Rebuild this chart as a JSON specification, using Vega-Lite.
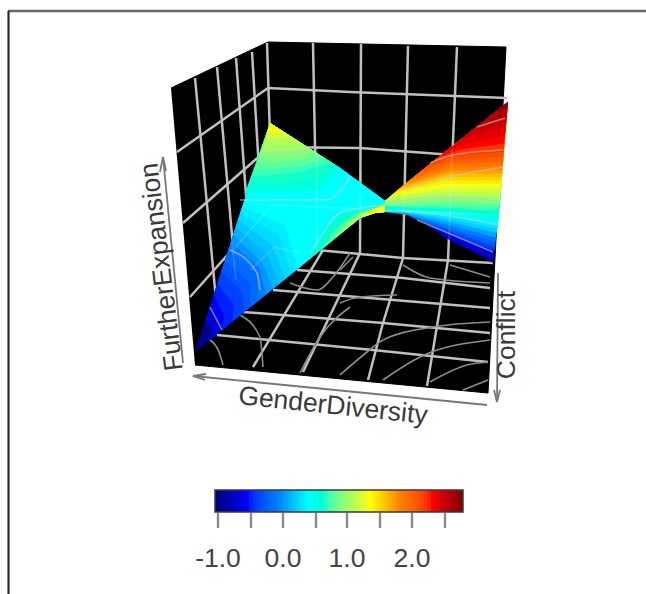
{"$schema":"https://vega.github.io/schema/vega-lite/v6.json","width":646,"height":594,"padding":0,"autosize":{"type":"none"},"background":"white","config":{"view":{"stroke":null}},
"datasets":{
"frame":[{"g":"t","i":0,"u":8,"v":11},{"g":"t","i":1,"u":646,"v":11}],
"frameL":[{"g":"l","i":0,"u":8.5,"v":11},{"g":"l","i":1,"u":8.5,"v":594}],
"box":[{"g":"b","i":0,"u":171,"v":88},{"g":"b","i":1,"u":268,"v":42},{"g":"b","i":2,"u":506,"v":47},{"g":"b","i":3,"u":488,"v":393},{"g":"b","i":4,"u":195,"v":365}],
"grid":[
{"g":"a1","i":0,"u":195,"v":78},{"g":"a1","i":1,"u":217,"v":310},
{"g":"a2","i":0,"u":217,"v":67},{"g":"a2","i":1,"u":236,"v":280},
{"g":"a3","i":0,"u":236,"v":58},{"g":"a3","i":1,"u":250,"v":250},
{"g":"a4","i":0,"u":252,"v":52},{"g":"a4","i":1,"u":262,"v":220},
{"g":"a5","i":0,"u":267,"v":43},{"g":"a5","i":1,"u":272,"v":200},
{"g":"h1","i":0,"u":177,"v":152},{"g":"h1","i":1,"u":268,"v":88},{"g":"h1","i":2,"u":350,"v":92},{"g":"h1","i":3,"u":507,"v":98},
{"g":"h2","i":0,"u":183,"v":223},{"g":"h2","i":1,"u":270,"v":147},{"g":"h2","i":2,"u":360,"v":148},{"g":"h2","i":3,"u":453,"v":155},
{"g":"h3","i":0,"u":190,"v":297},{"g":"h3","i":1,"u":272,"v":205},{"g":"h3","i":2,"u":400,"v":208},
{"g":"b1","i":0,"u":313,"v":43},{"g":"b1","i":1,"u":317,"v":250},
{"g":"b2","i":0,"u":361,"v":44},{"g":"b2","i":1,"u":360,"v":253},
{"g":"b3","i":0,"u":408,"v":46},{"g":"b3","i":1,"u":403,"v":258},
{"g":"b4","i":0,"u":457,"v":47},{"g":"b4","i":1,"u":448,"v":260},
{"g":"f0","i":0,"u":317,"v":250},{"g":"f0","i":1,"u":403,"v":258},{"g":"f0","i":2,"u":493,"v":263},
{"g":"f1","i":0,"u":297,"v":270},{"g":"f1","i":1,"u":403,"v":278},{"g":"f1","i":2,"u":490,"v":288},
{"g":"f2","i":0,"u":273,"v":290},{"g":"f2","i":1,"u":490,"v":308},
{"g":"f3","i":0,"u":243,"v":312},{"g":"f3","i":1,"u":383,"v":323},{"g":"f3","i":2,"u":490,"v":333},
{"g":"f4","i":0,"u":217,"v":335},{"g":"f4","i":1,"u":373,"v":350},{"g":"f4","i":2,"u":488,"v":362},
{"g":"d1","i":0,"u":253,"v":367},{"g":"d1","i":1,"u":323,"v":250},
{"g":"d2","i":0,"u":303,"v":372},{"g":"d2","i":1,"u":360,"v":253},
{"g":"d3","i":0,"u":368,"v":380},{"g":"d3","i":1,"u":383,"v":323},{"g":"d3","i":2,"u":403,"v":258},
{"g":"d4","i":0,"u":427,"v":386},{"g":"d4","i":1,"u":448,"v":260}
],
"floorContours":[
{"g":"c1","i":0,"u":210,"v":340},{"g":"c1","i":1,"u":219,"v":352},{"g":"c1","i":2,"u":223,"v":365},
{"g":"c2","i":0,"u":240,"v":315},{"g":"c2","i":1,"u":260,"v":337},{"g":"c2","i":2,"u":263,"v":367},
{"g":"c3","i":0,"u":290,"v":283},{"g":"c3","i":1,"u":317,"v":290},{"g":"c3","i":2,"u":333,"v":277},{"g":"c3","i":3,"u":350,"v":253},
{"g":"c4","i":0,"u":300,"v":373},{"g":"c4","i":1,"u":320,"v":337},{"g":"c4","i":2,"u":350,"v":307},
{"g":"c5","i":0,"u":340,"v":375},{"g":"c5","i":1,"u":367,"v":352},{"g":"c5","i":2,"u":383,"v":340},{"g":"c5","i":3,"u":433,"v":327},{"g":"c5","i":4,"u":490,"v":322},
{"g":"c6","i":0,"u":383,"v":380},{"g":"c6","i":1,"u":420,"v":357},{"g":"c6","i":2,"u":490,"v":340},
{"g":"c7","i":0,"u":430,"v":382},{"g":"c7","i":1,"u":467,"v":365},{"g":"c7","i":2,"u":488,"v":362},
{"g":"c8","i":0,"u":463,"v":390},{"g":"c8","i":1,"u":488,"v":380},
{"g":"c9","i":0,"u":403,"v":265},{"g":"c9","i":1,"u":430,"v":278},{"g":"c9","i":2,"u":490,"v":283},
{"g":"c10","i":0,"u":450,"v":265},{"g":"c10","i":1,"u":490,"v":277},
{"g":"c11","i":0,"u":340,"v":303},{"g":"c11","i":1,"u":360,"v":297},{"g":"c11","i":2,"u":397,"v":295},
{"g":"c12","i":0,"u":340,"v":270},{"g":"c12","i":1,"u":353,"v":257}
],
"left":[
{"z":-0.95,"i":0,"u":195,"v":352},{"z":-0.95,"i":1,"u":360,"v":218},{"z":-0.95,"i":2,"u":375,"v":213},{"z":-0.95,"i":3,"u":385,"v":212},{"z":-0.95,"i":4,"u":385,"v":201},{"z":-0.95,"i":5,"u":340,"v":168},{"z":-0.95,"i":6,"u":270,"v":123},
{"z":-0.7,"i":0,"u":205.5,"v":320},{"z":-0.7,"i":1,"u":213,"v":332},{"z":-0.7,"i":2,"u":206,"v":343},{"z":-0.7,"i":3,"u":360,"v":218},{"z":-0.7,"i":4,"u":375,"v":213},{"z":-0.7,"i":5,"u":385,"v":212},{"z":-0.7,"i":6,"u":385,"v":201},{"z":-0.7,"i":7,"u":340,"v":168},{"z":-0.7,"i":8,"u":270,"v":123},
{"z":-0.6,"i":0,"u":209.6,"v":307.5},{"z":-0.6,"i":1,"u":218.5,"v":323.5},{"z":-0.6,"i":2,"u":214,"v":336.6},{"z":-0.6,"i":3,"u":360,"v":218},{"z":-0.6,"i":4,"u":375,"v":213},{"z":-0.6,"i":5,"u":385,"v":212},{"z":-0.6,"i":6,"u":385,"v":201},{"z":-0.6,"i":7,"u":340,"v":168},{"z":-0.6,"i":8,"u":270,"v":123},
{"z":-0.5,"i":0,"u":213.7,"v":295},{"z":-0.5,"i":1,"u":224,"v":315},{"z":-0.5,"i":2,"u":222,"v":330},{"z":-0.5,"i":3,"u":360,"v":218},{"z":-0.5,"i":4,"u":375,"v":213},{"z":-0.5,"i":5,"u":385,"v":212},{"z":-0.5,"i":6,"u":385,"v":201},{"z":-0.5,"i":7,"u":340,"v":168},{"z":-0.5,"i":8,"u":270,"v":123},
{"z":-0.4,"i":0,"u":217.3,"v":283.5},{"z":-0.4,"i":1,"u":233.5,"v":304},{"z":-0.4,"i":2,"u":232.5,"v":321.5},{"z":-0.4,"i":3,"u":360,"v":218},{"z":-0.4,"i":4,"u":375,"v":213},{"z":-0.4,"i":5,"u":385,"v":212},{"z":-0.4,"i":6,"u":385,"v":201},{"z":-0.4,"i":7,"u":340,"v":168},{"z":-0.4,"i":8,"u":270,"v":123},
{"z":-0.3,"i":0,"u":221,"v":272},{"z":-0.3,"i":1,"u":243,"v":293},{"z":-0.3,"i":2,"u":243,"v":313},{"z":-0.3,"i":3,"u":360,"v":218},{"z":-0.3,"i":4,"u":375,"v":213},{"z":-0.3,"i":5,"u":385,"v":212},{"z":-0.3,"i":6,"u":385,"v":201},{"z":-0.3,"i":7,"u":340,"v":168},{"z":-0.3,"i":8,"u":270,"v":123},
{"z":-0.2,"i":0,"u":224.7,"v":261},{"z":-0.2,"i":1,"u":250,"v":283},{"z":-0.2,"i":2,"u":250.5,"v":307},{"z":-0.2,"i":3,"u":360,"v":218},{"z":-0.2,"i":4,"u":375,"v":213},{"z":-0.2,"i":5,"u":385,"v":212},{"z":-0.2,"i":6,"u":385,"v":201},{"z":-0.2,"i":7,"u":340,"v":168},{"z":-0.2,"i":8,"u":270,"v":123},
{"z":-0.1,"i":0,"u":228.4,"v":250},{"z":-0.1,"i":1,"u":257,"v":273},{"z":-0.1,"i":2,"u":258,"v":301},{"z":-0.1,"i":3,"u":360,"v":218},{"z":-0.1,"i":4,"u":375,"v":213},{"z":-0.1,"i":5,"u":385,"v":212},{"z":-0.1,"i":6,"u":385,"v":201},{"z":-0.1,"i":7,"u":340,"v":168},{"z":-0.1,"i":8,"u":270,"v":123},
{"z":0.0,"i":0,"u":230.7,"v":242.5},{"z":0.0,"i":1,"u":259.5,"v":267.5},{"z":0.0,"i":2,"u":265.5,"v":295},{"z":0.0,"i":3,"u":360,"v":218},{"z":0.0,"i":4,"u":375,"v":213},{"z":0.0,"i":5,"u":385,"v":212},{"z":0.0,"i":6,"u":385,"v":201},{"z":0.0,"i":7,"u":340,"v":168},{"z":0.0,"i":8,"u":270,"v":123},
{"z":0.1,"i":0,"u":233,"v":235},{"z":0.1,"i":1,"u":262,"v":262},{"z":0.1,"i":2,"u":273,"v":288.7},{"z":0.1,"i":3,"u":360,"v":218},{"z":0.1,"i":4,"u":375,"v":213},{"z":0.1,"i":5,"u":385,"v":212},{"z":0.1,"i":6,"u":385,"v":201},{"z":0.1,"i":7,"u":340,"v":168},{"z":0.1,"i":8,"u":270,"v":123},
{"z":0.17,"i":0,"u":235.5,"v":227.5},{"z":0.17,"i":1,"u":267,"v":253.5},{"z":0.17,"i":2,"u":279,"v":284},{"z":0.17,"i":3,"u":360,"v":218},{"z":0.17,"i":4,"u":375,"v":213},{"z":0.17,"i":5,"u":385,"v":212},{"z":0.17,"i":6,"u":385,"v":201},{"z":0.17,"i":7,"u":340,"v":168},{"z":0.17,"i":8,"u":270,"v":123},
{"z":0.25,"i":0,"u":238,"v":220},{"z":0.25,"i":1,"u":272,"v":245},{"z":0.25,"i":2,"u":285,"v":279},{"z":0.25,"i":3,"u":360,"v":218},{"z":0.25,"i":4,"u":375,"v":213},{"z":0.25,"i":5,"u":385,"v":212},{"z":0.25,"i":6,"u":385,"v":201},{"z":0.25,"i":7,"u":340,"v":168},{"z":0.25,"i":8,"u":270,"v":123},
{"z":0.32,"i":0,"u":240.2,"v":213.5},{"z":0.32,"i":1,"u":278.5,"v":235},{"z":0.32,"i":2,"u":291.5,"v":273.6},{"z":0.32,"i":3,"u":360,"v":218},{"z":0.32,"i":4,"u":375,"v":213},{"z":0.32,"i":5,"u":385,"v":212},{"z":0.32,"i":6,"u":385,"v":201},{"z":0.32,"i":7,"u":340,"v":168},{"z":0.32,"i":8,"u":270,"v":123},
{"z":0.4,"i":0,"u":242.5,"v":207},{"z":0.4,"i":1,"u":285,"v":225},{"z":0.4,"i":2,"u":298,"v":268.4},{"z":0.4,"i":3,"u":360,"v":218},{"z":0.4,"i":4,"u":375,"v":213},{"z":0.4,"i":5,"u":385,"v":212},{"z":0.4,"i":6,"u":385,"v":201},{"z":0.4,"i":7,"u":340,"v":168},{"z":0.4,"i":8,"u":270,"v":123},
{"z":0.55,"i":0,"u":245,"v":193},{"z":0.55,"i":1,"u":320,"v":190},{"z":0.55,"i":2,"u":340,"v":168},{"z":0.55,"i":3,"u":270,"v":123},
{"z":0.62,"i":0,"u":248.5,"v":185},{"z":0.62,"i":1,"u":310,"v":181},{"z":0.62,"i":2,"u":336,"v":165.5},{"z":0.62,"i":3,"u":270,"v":123},
{"z":0.7,"i":0,"u":252,"v":177},{"z":0.7,"i":1,"u":300,"v":172},{"z":0.7,"i":2,"u":332,"v":163},{"z":0.7,"i":3,"u":270,"v":123},
{"z":0.78,"i":0,"u":254.5,"v":170},{"z":0.78,"i":1,"u":300,"v":166.5},{"z":0.78,"i":2,"u":326,"v":159},{"z":0.78,"i":3,"u":270,"v":123},
{"z":0.85,"i":0,"u":257,"v":163},{"z":0.85,"i":1,"u":300,"v":161},{"z":0.85,"i":2,"u":320,"v":155},{"z":0.85,"i":3,"u":270,"v":123},
{"z":0.92,"i":0,"u":259.5,"v":157.5},{"z":0.92,"i":1,"u":300,"v":156},{"z":0.92,"i":2,"u":316,"v":152.5},{"z":0.92,"i":3,"u":270,"v":123},
{"z":1.0,"i":0,"u":262,"v":152},{"z":1.0,"i":1,"u":300,"v":151},{"z":1.0,"i":2,"u":312,"v":150},{"z":1.0,"i":3,"u":270,"v":123},
{"z":1.1,"i":0,"u":264,"v":145},{"z":1.1,"i":1,"u":302,"v":144},{"z":1.1,"i":2,"u":270,"v":123},
{"z":1.2,"i":0,"u":266,"v":138},{"z":1.2,"i":1,"u":292,"v":137},{"z":1.2,"i":2,"u":270,"v":123},
{"z":1.28,"i":0,"u":267,"v":134},{"z":1.28,"i":1,"u":286,"v":133.5},{"z":1.28,"i":2,"u":270,"v":123},
{"z":1.35,"i":0,"u":268,"v":130},{"z":1.35,"i":1,"u":280,"v":130},{"z":1.35,"i":2,"u":270,"v":123},
{"z":0.6,"i":0,"u":308,"v":260},{"z":0.6,"i":1,"u":318,"v":240},{"z":0.6,"i":2,"u":340,"v":214},{"z":0.6,"i":3,"u":385,"v":205},{"z":0.6,"i":4,"u":385,"v":212},{"z":0.6,"i":5,"u":375,"v":213},{"z":0.6,"i":6,"u":360,"v":218},
{"z":0.75,"i":0,"u":322,"v":249},{"z":0.75,"i":1,"u":333,"v":232},{"z":0.75,"i":2,"u":352,"v":215},{"z":0.75,"i":3,"u":385,"v":205},{"z":0.75,"i":4,"u":385,"v":212},{"z":0.75,"i":5,"u":375,"v":213},{"z":0.75,"i":6,"u":360,"v":218},
{"z":0.9,"i":0,"u":335,"v":238},{"z":0.9,"i":1,"u":347,"v":222},{"z":0.9,"i":2,"u":385,"v":205},{"z":0.9,"i":3,"u":385,"v":212},{"z":0.9,"i":4,"u":375,"v":213},{"z":0.9,"i":5,"u":360,"v":218},
{"z":1.05,"i":0,"u":345,"v":230},{"z":1.05,"i":1,"u":358,"v":215},{"z":1.05,"i":2,"u":385,"v":205},{"z":1.05,"i":3,"u":385,"v":212},{"z":1.05,"i":4,"u":375,"v":213},{"z":1.05,"i":5,"u":360,"v":218},
{"z":1.22,"i":0,"u":355,"v":222},{"z":1.22,"i":1,"u":368,"v":211},{"z":1.22,"i":2,"u":385,"v":205},{"z":1.22,"i":3,"u":385,"v":212},{"z":1.22,"i":4,"u":375,"v":213},{"z":1.22,"i":5,"u":360,"v":218},
{"z":1.37,"i":0,"u":364,"v":216},{"z":1.37,"i":1,"u":375,"v":209},{"z":1.37,"i":2,"u":385,"v":205},{"z":1.37,"i":3,"u":385,"v":212},{"z":1.37,"i":4,"u":375,"v":213}
],
"right":[
{"z":-0.95,"i":0,"u":385,"v":201},{"z":-0.95,"i":1,"u":385,"v":212},{"z":-0.95,"i":2,"u":403,"v":212},{"z":-0.95,"i":3,"u":420,"v":220},{"z":-0.95,"i":4,"u":450,"v":240},{"z":-0.95,"i":5,"u":493,"v":263},{"z":-0.95,"i":6,"u":508,"v":102},
{"z":-0.7,"i":0,"u":450,"v":240.5},{"z":-0.7,"i":1,"u":475,"v":251.5},{"z":-0.7,"i":2,"u":493.7,"v":259},{"z":-0.7,"i":3,"u":508,"v":102},{"z":-0.7,"i":4,"u":385,"v":201},{"z":-0.7,"i":5,"u":385,"v":212},{"z":-0.7,"i":6,"u":403,"v":212},{"z":-0.7,"i":7,"u":420,"v":220},
{"z":-0.4,"i":0,"u":420,"v":221},{"z":-0.4,"i":1,"u":460,"v":238},{"z":-0.4,"i":2,"u":494.5,"v":251},{"z":-0.4,"i":3,"u":508,"v":102},{"z":-0.4,"i":4,"u":385,"v":201},{"z":-0.4,"i":5,"u":385,"v":212},{"z":-0.4,"i":6,"u":403,"v":212},
{"z":-0.25,"i":0,"u":415,"v":219},{"z":-0.25,"i":1,"u":455,"v":233},{"z":-0.25,"i":2,"u":495,"v":246.5},{"z":-0.25,"i":3,"u":508,"v":102},{"z":-0.25,"i":4,"u":385,"v":201},{"z":-0.25,"i":5,"u":385,"v":212},{"z":-0.25,"i":6,"u":403,"v":212},
{"z":-0.1,"i":0,"u":412,"v":217},{"z":-0.1,"i":1,"u":450,"v":229},{"z":-0.1,"i":2,"u":495.5,"v":242},{"z":-0.1,"i":3,"u":508,"v":102},{"z":-0.1,"i":4,"u":385,"v":201},{"z":-0.1,"i":5,"u":385,"v":212},{"z":-0.1,"i":6,"u":403,"v":212},
{"z":0.05,"i":0,"u":408,"v":215},{"z":0.05,"i":1,"u":450,"v":225.5},{"z":0.05,"i":2,"u":496,"v":237.5},{"z":0.05,"i":3,"u":508,"v":102},{"z":0.05,"i":4,"u":385,"v":201},{"z":0.05,"i":5,"u":385,"v":212},
{"z":0.2,"i":0,"u":405,"v":213},{"z":0.2,"i":1,"u":450,"v":222},{"z":0.2,"i":2,"u":497,"v":233},{"z":0.2,"i":3,"u":508,"v":102},{"z":0.2,"i":4,"u":385,"v":201},{"z":0.2,"i":5,"u":385,"v":212},
{"z":0.3,"i":0,"u":402,"v":212},{"z":0.3,"i":1,"u":450,"v":219},{"z":0.3,"i":2,"u":497.5,"v":229},{"z":0.3,"i":3,"u":508,"v":102},{"z":0.3,"i":4,"u":385,"v":201},{"z":0.3,"i":5,"u":385,"v":212},
{"z":0.4,"i":0,"u":400,"v":211},{"z":0.4,"i":1,"u":450,"v":216},{"z":0.4,"i":2,"u":498,"v":225},{"z":0.4,"i":3,"u":508,"v":102},{"z":0.4,"i":4,"u":385,"v":201},{"z":0.4,"i":5,"u":385,"v":212},
{"z":0.5,"i":0,"u":397,"v":210},{"z":0.5,"i":1,"u":450,"v":213.5},{"z":0.5,"i":2,"u":498.5,"v":220},{"z":0.5,"i":3,"u":508,"v":102},{"z":0.5,"i":4,"u":385,"v":201},{"z":0.5,"i":5,"u":385,"v":211},
{"z":0.6,"i":0,"u":395,"v":209},{"z":0.6,"i":1,"u":450,"v":211},{"z":0.6,"i":2,"u":499,"v":216},{"z":0.6,"i":3,"u":508,"v":102},{"z":0.6,"i":4,"u":385,"v":201},{"z":0.6,"i":5,"u":385,"v":210},
{"z":0.7,"i":0,"u":390,"v":207},{"z":0.7,"i":1,"u":447,"v":208.5},{"z":0.7,"i":2,"u":499,"v":211},{"z":0.7,"i":3,"u":508,"v":102},{"z":0.7,"i":4,"u":385,"v":201},
{"z":0.8,"i":0,"u":385,"v":206},{"z":0.8,"i":1,"u":445,"v":206},{"z":0.8,"i":2,"u":499.5,"v":207},{"z":0.8,"i":3,"u":508,"v":102},{"z":0.8,"i":4,"u":385,"v":201},
{"z":0.9,"i":0,"u":385,"v":205},{"z":0.9,"i":1,"u":442,"v":202},{"z":0.9,"i":2,"u":499.7,"v":203.5},{"z":0.9,"i":3,"u":508,"v":102},{"z":0.9,"i":4,"u":385,"v":201},
{"z":1.0,"i":0,"u":385,"v":204},{"z":1.0,"i":1,"u":440,"v":198},{"z":1.0,"i":2,"u":500,"v":200},{"z":1.0,"i":3,"u":508,"v":102},{"z":1.0,"i":4,"u":385,"v":201},
{"z":1.1,"i":0,"u":386.5,"v":200.5},{"z":1.1,"i":1,"u":440,"v":195},{"z":1.1,"i":2,"u":500,"v":196.5},{"z":1.1,"i":3,"u":508,"v":102},
{"z":1.2,"i":0,"u":388,"v":198},{"z":1.2,"i":1,"u":440,"v":192},{"z":1.2,"i":2,"u":500.5,"v":193},{"z":1.2,"i":3,"u":508,"v":102},
{"z":1.3,"i":0,"u":390,"v":196.5},{"z":1.3,"i":1,"u":441,"v":188},{"z":1.3,"i":2,"u":501,"v":188.5},{"z":1.3,"i":3,"u":508,"v":102},
{"z":1.4,"i":0,"u":392,"v":195},{"z":1.4,"i":1,"u":442,"v":184},{"z":1.4,"i":2,"u":501,"v":184},{"z":1.4,"i":3,"u":508,"v":102},
{"z":1.5,"i":0,"u":395,"v":192},{"z":1.5,"i":1,"u":443.5,"v":180.5},{"z":1.5,"i":2,"u":501.5,"v":180.5},{"z":1.5,"i":3,"u":508,"v":102},
{"z":1.6,"i":0,"u":398,"v":190},{"z":1.6,"i":1,"u":445,"v":177},{"z":1.6,"i":2,"u":502,"v":177},{"z":1.6,"i":3,"u":508,"v":102},
{"z":1.7,"i":0,"u":401,"v":187},{"z":1.7,"i":1,"u":447,"v":174},{"z":1.7,"i":2,"u":502,"v":173.5},{"z":1.7,"i":3,"u":508,"v":102},
{"z":1.8,"i":0,"u":405,"v":184},{"z":1.8,"i":1,"u":450,"v":171},{"z":1.8,"i":2,"u":502,"v":170},{"z":1.8,"i":3,"u":508,"v":102},
{"z":1.9,"i":0,"u":410,"v":180},{"z":1.9,"i":1,"u":450,"v":167.5},{"z":1.9,"i":2,"u":502.5,"v":166},{"z":1.9,"i":3,"u":508,"v":102},
{"z":2.0,"i":0,"u":415,"v":176},{"z":2.0,"i":1,"u":450,"v":164},{"z":2.0,"i":2,"u":503,"v":162},{"z":2.0,"i":3,"u":508,"v":102},
{"z":2.1,"i":0,"u":421,"v":171},{"z":2.1,"i":1,"u":451,"v":160},{"z":2.1,"i":2,"u":503,"v":157},{"z":2.1,"i":3,"u":508,"v":102},
{"z":2.2,"i":0,"u":428,"v":165.6},{"z":2.2,"i":1,"u":453,"v":156},{"z":2.2,"i":2,"u":503.5,"v":152},{"z":2.2,"i":3,"u":508,"v":102},
{"z":2.3,"i":0,"u":438,"v":157.6},{"z":2.3,"i":1,"u":461,"v":149.5},{"z":2.3,"i":2,"u":504,"v":143.5},{"z":2.3,"i":3,"u":508,"v":102},
{"z":2.4,"i":0,"u":448,"v":150},{"z":2.4,"i":1,"u":470,"v":143},{"z":2.4,"i":2,"u":505,"v":135},{"z":2.4,"i":3,"u":508,"v":102},
{"z":2.5,"i":0,"u":462,"v":138},{"z":2.5,"i":1,"u":488,"v":130},{"z":2.5,"i":2,"u":505.5,"v":126},{"z":2.5,"i":3,"u":508,"v":102},
{"z":2.6,"i":0,"u":477,"v":126},{"z":2.6,"i":1,"u":506,"v":118},{"z":2.6,"i":2,"u":508,"v":102},
{"z":2.75,"i":0,"u":494,"v":112},{"z":2.75,"i":1,"u":507,"v":108},{"z":2.75,"i":2,"u":508,"v":102}
],
"overlay":[
{"g":"o1","i":0,"u":210,"v":307},{"g":"o1","i":1,"u":222,"v":330},
{"g":"o2","i":0,"u":230,"v":250},{"g":"o2","i":1,"u":257,"v":273},{"g":"o2","i":2,"u":260,"v":290},
{"g":"o3","i":0,"u":240,"v":200},{"g":"o3","i":1,"u":327,"v":200},{"g":"o3","i":2,"u":350,"v":177},
{"g":"o4","i":0,"u":262,"v":153},{"g":"o4","i":1,"u":310,"v":150},
{"g":"o5","i":0,"u":310,"v":253},{"g":"o5","i":1,"u":317,"v":243},{"g":"o5","i":2,"u":340,"v":213},{"g":"o5","i":3,"u":385,"v":205},
{"g":"o6","i":0,"u":430,"v":163},{"g":"o6","i":1,"u":453,"v":155},{"g":"o6","i":2,"u":503,"v":150},
{"g":"o7","i":0,"u":403,"v":190},{"g":"o7","i":1,"u":450,"v":177},{"g":"o7","i":2,"u":503,"v":167},
{"g":"o8","i":0,"u":387,"v":203},{"g":"o8","i":1,"u":440,"v":197},{"g":"o8","i":2,"u":497,"v":200},
{"g":"o9","i":0,"u":477,"v":127},{"g":"o9","i":1,"u":505,"v":118},
{"g":"o10","i":0,"u":400,"v":211},{"g":"o10","i":1,"u":450,"v":216},{"g":"o10","i":2,"u":498,"v":225},
{"g":"o11","i":0,"u":417,"v":220},{"g":"o11","i":1,"u":493,"v":252}
],
"ghost":[
{"g":"p1","i":0,"u":317,"v":147},{"g":"p1","i":1,"u":317,"v":250},
{"g":"p2","i":0,"u":361,"v":170},{"g":"p2","i":1,"u":360,"v":218},
{"g":"p3","i":0,"u":405,"v":188},{"g":"p3","i":1,"u":403,"v":212},
{"g":"p4","i":0,"u":452,"v":150},{"g":"p4","i":1,"u":449,"v":240},
{"g":"p5","i":0,"u":232,"v":251},{"g":"p5","i":1,"u":272,"v":205},{"g":"p5","i":2,"u":495,"v":215},
{"g":"p6","i":0,"u":250,"v":270},{"g":"p6","i":1,"u":275,"v":247},{"g":"p6","i":2,"u":300,"v":253},
{"g":"p8","i":0,"u":232,"v":243},{"g":"p8","i":1,"u":236,"v":280}
],
"axes":[
{"g":"x","i":0,"u":163,"v":157},{"g":"x","i":1,"u":183,"v":363},
{"g":"xa","i":0,"u":160,"v":172},{"g":"xa","i":1,"u":163,"v":157},{"g":"xa","i":2,"u":166,"v":171},
{"g":"y","i":0,"u":193,"v":376},{"g":"y","i":1,"u":487,"v":405},
{"g":"ya","i":0,"u":206,"v":374},{"g":"ya","i":1,"u":193,"v":376},{"g":"ya","i":2,"u":205,"v":380},
{"g":"w","i":0,"u":498,"v":273},{"g":"w","i":1,"u":497,"v":402},
{"g":"wa","i":0,"u":494,"v":390},{"g":"wa","i":1,"u":497,"v":402},{"g":"wa","i":2,"u":500,"v":390}
],
"titles":[
{"t":"FurtherExpansion","u":162,"v":267,"a":-97},
{"t":"GenderDiversity","u":333,"v":406,"a":6},
{"t":"Conflict","u":507,"v":335,"a":-90}
],
"bar":[
{"z":-1.0,"u":215,"u2":222,"v":490,"v2":512},{"z":-0.9,"u":221.5,"u2":228.5,"v":490,"v2":512},{"z":-0.8,"u":228,"u2":235,"v":490,"v2":512},{"z":-0.7,"u":234.5,"u2":241.4,"v":490,"v2":512},{"z":-0.6,"u":240.9,"u2":247.9,"v":490,"v2":512},{"z":-0.5,"u":247.4,"u2":254.4,"v":490,"v2":512},{"z":-0.4,"u":253.9,"u2":260.9,"v":490,"v2":512},{"z":-0.3,"u":260.4,"u2":267.3,"v":490,"v2":512},{"z":-0.2,"u":266.8,"u2":273.8,"v":490,"v2":512},{"z":-0.1,"u":273.3,"u2":280.3,"v":490,"v2":512},{"z":0.0,"u":279.8,"u2":286.8,"v":490,"v2":512},{"z":0.1,"u":286.3,"u2":293.3,"v":490,"v2":512},{"z":0.2,"u":292.8,"u2":299.7,"v":490,"v2":512},{"z":0.3,"u":299.2,"u2":306.2,"v":490,"v2":512},{"z":0.4,"u":305.7,"u2":312.7,"v":490,"v2":512},{"z":0.5,"u":312.2,"u2":319.2,"v":490,"v2":512},{"z":0.6,"u":318.7,"u2":325.7,"v":490,"v2":512},{"z":0.7,"u":325.2,"u2":332.1,"v":490,"v2":512},{"z":0.8,"u":331.6,"u2":338.6,"v":490,"v2":512},{"z":0.9,"u":338.1,"u2":345.1,"v":490,"v2":512},{"z":1.0,"u":344.6,"u2":351.6,"v":490,"v2":512},{"z":1.1,"u":351.1,"u2":358.1,"v":490,"v2":512},{"z":1.2,"u":357.6,"u2":364.5,"v":490,"v2":512},{"z":1.3,"u":364,"u2":371,"v":490,"v2":512},{"z":1.4,"u":370.5,"u2":377.5,"v":490,"v2":512},{"z":1.5,"u":377,"u2":384,"v":490,"v2":512},{"z":1.6,"u":383.5,"u2":390.5,"v":490,"v2":512},{"z":1.7,"u":390,"u2":396.9,"v":490,"v2":512},{"z":1.8,"u":396.4,"u2":403.4,"v":490,"v2":512},{"z":1.9,"u":402.9,"u2":409.9,"v":490,"v2":512},{"z":2.0,"u":409.4,"u2":416.4,"v":490,"v2":512},{"z":2.1,"u":415.9,"u2":422.9,"v":490,"v2":512},{"z":2.2,"u":422.4,"u2":429.3,"v":490,"v2":512},{"z":2.3,"u":428.8,"u2":435.8,"v":490,"v2":512},{"z":2.4,"u":435.3,"u2":442.3,"v":490,"v2":512},{"z":2.5,"u":441.8,"u2":448.8,"v":490,"v2":512},{"z":2.6,"u":448.3,"u2":455.3,"v":490,"v2":512},{"z":2.7,"u":454.8,"u2":463,"v":490,"v2":512},
{"z":-0.95,"u":219.9,"u2":223.2,"v":490,"v2":512},{"z":-0.85,"u":226.4,"u2":229.7,"v":490,"v2":512},{"z":-0.75,"u":232.9,"u2":236.2,"v":490,"v2":512},{"z":-0.65,"u":239.3,"u2":242.6,"v":490,"v2":512},{"z":-0.55,"u":245.8,"u2":249.1,"v":490,"v2":512},{"z":-0.45,"u":252.3,"u2":255.6,"v":490,"v2":512},{"z":-0.35,"u":258.8,"u2":262.1,"v":490,"v2":512},{"z":-0.25,"u":265.3,"u2":268.6,"v":490,"v2":512},{"z":-0.15,"u":271.7,"u2":275,"v":490,"v2":512},{"z":-0.05,"u":278.2,"u2":281.5,"v":490,"v2":512},{"z":0.05,"u":284.7,"u2":288,"v":490,"v2":512},{"z":0.15,"u":291.2,"u2":294.5,"v":490,"v2":512},{"z":0.25,"u":297.7,"u2":301,"v":490,"v2":512},{"z":0.35,"u":304.1,"u2":307.4,"v":490,"v2":512},{"z":0.45,"u":310.6,"u2":313.9,"v":490,"v2":512},{"z":0.55,"u":317.1,"u2":320.4,"v":490,"v2":512},{"z":0.65,"u":323.6,"u2":326.9,"v":490,"v2":512},{"z":0.75,"u":330.1,"u2":333.4,"v":490,"v2":512},{"z":0.85,"u":336.5,"u2":339.8,"v":490,"v2":512},{"z":0.95,"u":343,"u2":346.3,"v":490,"v2":512},{"z":1.05,"u":349.5,"u2":352.8,"v":490,"v2":512},{"z":1.15,"u":356,"u2":359.3,"v":490,"v2":512},{"z":1.25,"u":362.5,"u2":365.8,"v":490,"v2":512},{"z":1.35,"u":368.9,"u2":372.2,"v":490,"v2":512},{"z":1.45,"u":375.4,"u2":378.7,"v":490,"v2":512},{"z":1.55,"u":381.9,"u2":385.2,"v":490,"v2":512},{"z":1.65,"u":388.4,"u2":391.7,"v":490,"v2":512},{"z":1.75,"u":394.9,"u2":398.2,"v":490,"v2":512},{"z":1.85,"u":401.3,"u2":404.6,"v":490,"v2":512},{"z":1.95,"u":407.8,"u2":411.1,"v":490,"v2":512},{"z":2.05,"u":414.3,"u2":417.6,"v":490,"v2":512},{"z":2.15,"u":420.8,"u2":424.1,"v":490,"v2":512},{"z":2.25,"u":427.3,"u2":430.6,"v":490,"v2":512},{"z":2.35,"u":433.7,"u2":437,"v":490,"v2":512},{"z":2.45,"u":440.2,"u2":443.5,"v":490,"v2":512},{"z":2.55,"u":446.7,"u2":450,"v":490,"v2":512},{"z":2.65,"u":453.2,"u2":456.5,"v":490,"v2":512},{"z":2.75,"u":459.5,"u2":463,"v":490,"v2":512}
],
"barBox":[{"u":215,"u2":463,"v":490,"v2":512}],
"ticks":[{"u":218,"v":513,"v2":528},{"u":251,"v":513,"v2":528},{"u":283,"v":513,"v2":528},{"u":316,"v":513,"v2":528},{"u":347,"v":513,"v2":528},{"u":380,"v":513,"v2":528},{"u":412,"v":513,"v2":528},{"u":445,"v":513,"v2":528}],
"labels":[{"t":"-1.0","u":218,"v":559},{"t":"0.0","u":283,"v":559},{"t":"1.0","u":347,"v":559},{"t":"2.0","u":412,"v":559}]
},
"encoding":{
"x":{"field":"u","type":"quantitative","axis":null,"scale":{"domain":[0,646],"nice":false,"zero":false}},
"y":{"field":"v","type":"quantitative","axis":null,"scale":{"domain":[594,0],"nice":false,"zero":false}}
},
"layer":[
{"data":{"name":"frame"},"mark":{"type":"line","stroke":"#6a6a6a","strokeWidth":2.5},"encoding":{"order":{"field":"i"}}},
{"data":{"name":"frameL"},"mark":{"type":"line","stroke":"#2a2a2a","strokeWidth":2.2},"encoding":{"order":{"field":"i"}}},
{"data":{"name":"box"},"mark":{"type":"line","fill":"#000000","stroke":"#000000","strokeWidth":1},"encoding":{"order":{"field":"i"}}},
{"data":{"name":"grid"},"mark":{"type":"line","stroke":"#c0c0c0","strokeWidth":2.5},"encoding":{"detail":{"field":"g"},"order":{"field":"i"}}},
{"data":{"name":"floorContours"},"mark":{"type":"line","stroke":"#8c8c8c","strokeWidth":1.6,"interpolate":"monotone"},"encoding":{"detail":{"field":"g"},"order":{"field":"i"}}},
{"data":{"name":"left"},"mark":{"type":"line","strokeWidth":0},"encoding":{"detail":{"field":"z","type":"quantitative"},"order":{"field":"i"},"fill":{"field":"z","type":"quantitative","legend":null,"scale":{"domain":[-1.02,-0.546,-0.07,0.4,0.88,1.35,1.82,2.3,2.77],"range":["#00007f","#0000ff","#007fff","#00ffff","#7fff7f","#ffff00","#ff7f00","#ff0000","#7f0000"]}}}},
{"data":{"name":"right"},"mark":{"type":"line","strokeWidth":0},"encoding":{"detail":{"field":"z","type":"quantitative"},"order":{"field":"i"},"fill":{"field":"z","type":"quantitative","legend":null,"scale":{"domain":[-1.02,-0.546,-0.07,0.4,0.88,1.35,1.82,2.3,2.77],"range":["#00007f","#0000ff","#007fff","#00ffff","#7fff7f","#ffff00","#ff7f00","#ff0000","#7f0000"]}}}},
{"data":{"name":"ghost"},"mark":{"type":"line","stroke":"#ffffff","strokeWidth":2,"opacity":0.14},"encoding":{"detail":{"field":"g"},"order":{"field":"i"}}},
{"data":{"name":"overlay"},"mark":{"type":"line","stroke":"#c8c8c8","strokeWidth":1.6,"opacity":0.6,"interpolate":"monotone"},"encoding":{"detail":{"field":"g"},"order":{"field":"i"}}},
{"data":{"name":"axes"},"mark":{"type":"line","stroke":"#777777","strokeWidth":1.8},"encoding":{"detail":{"field":"g"},"order":{"field":"i"}}},
{"data":{"name":"titles"},"mark":{"type":"text","font":"Liberation Sans","fontSize":26.5,"fill":"#3a3a3a","baseline":"middle","align":"center"},"encoding":{"text":{"field":"t"},"angle":{"field":"a","type":"quantitative","scale":null}}},
{"data":{"name":"bar"},"mark":{"type":"rect"},"encoding":{"x2":{"field":"u2"},"y2":{"field":"v2"},"fill":{"field":"z","type":"quantitative","legend":null,"scale":{"domain":[-1.02,-0.546,-0.07,0.4,0.88,1.35,1.82,2.3,2.77],"range":["#00007f","#0000ff","#007fff","#00ffff","#7fff7f","#ffff00","#ff7f00","#ff0000","#7f0000"]}}}},
{"data":{"name":"barBox"},"mark":{"type":"rect","fill":null,"stroke":"#3a3a3a","strokeWidth":1.5},"encoding":{"x2":{"field":"u2"},"y2":{"field":"v2"}}},
{"data":{"name":"ticks"},"mark":{"type":"rule","stroke":"#8a8a8a","strokeWidth":2.4},"encoding":{"y2":{"field":"v2"}}},
{"data":{"name":"labels"},"mark":{"type":"text","font":"Liberation Sans","fontSize":26.5,"fill":"#444444","baseline":"middle","align":"center"},"encoding":{"text":{"field":"t"}}}
]}
